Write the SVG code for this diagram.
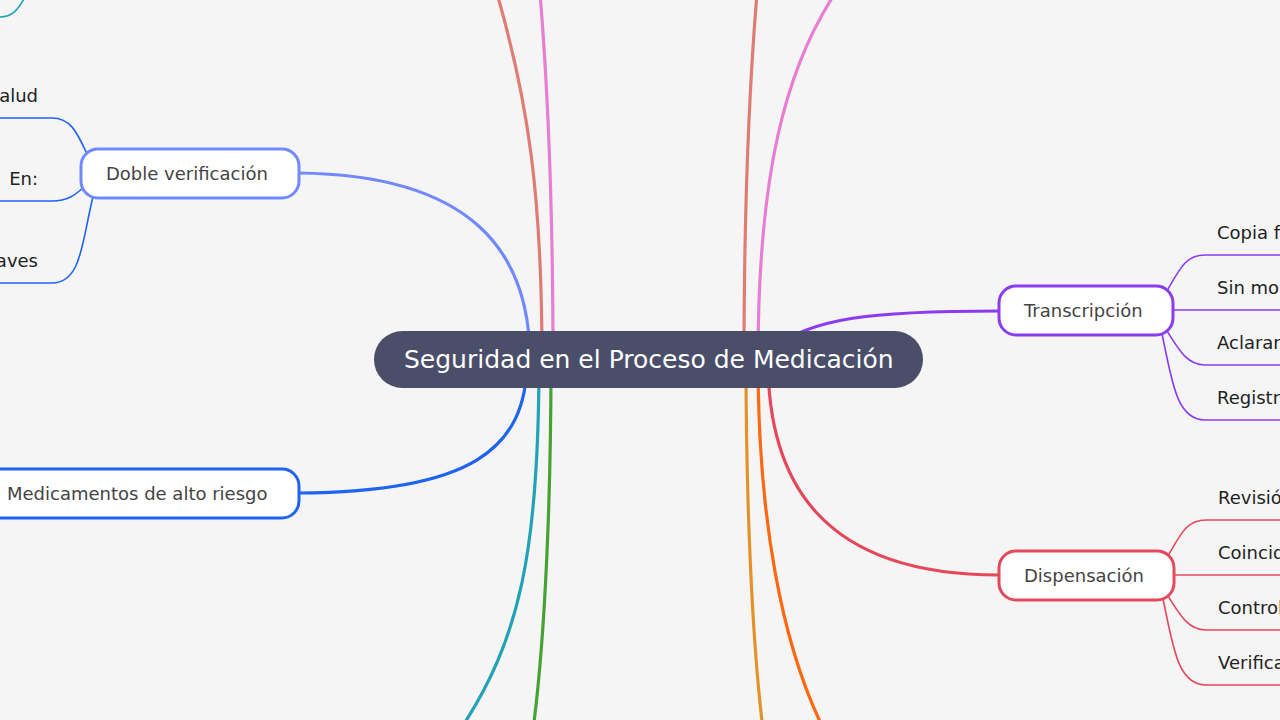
<svg xmlns="http://www.w3.org/2000/svg" width="1280" height="720" viewBox="0 0 1280 720">
<style>
.bg{fill:#f5f5f5}
.br{fill:none;stroke-width:3.2;stroke-linecap:round}
.sub{fill:none;stroke-width:1.6}
.node{fill:#ffffff;stroke-width:3}
.nt{font-family:"DejaVu Sans","Noto Sans",sans-serif;font-size:18px;fill:#444444}
.ct{font-family:"DejaVu Sans","Noto Sans",sans-serif;font-size:18px;fill:#222222}
.main{font-family:"DejaVu Sans","Noto Sans",sans-serif;font-size:25px;fill:#ffffff}
</style>
<rect class="bg" x="0" y="0" width="1280" height="720"/>
<g id="connectors">
  <path class="br" stroke="#e07c76" d="M 542 360 C 542 200 530 100 490 -30"/>
  <path class="br" stroke="#e77ed2" d="M 553 360 C 553 200 548 80 538 -30"/>
  <path class="br" stroke="#e07c76" d="M 744 360 C 744 200 749 80 759 -30"/>
  <path class="br" stroke="#e77ed2" d="M 758 360 C 758 190 780 60 852 -30"/>
  <path class="br" stroke="#7189ff" d="M 299 173 C 470 175 530 250 530 360"/>
  <path class="br" stroke="#1f63f2" d="M 299 493 C 470 492 527 450 527 360"/>
  <path class="br" stroke="#22a2b6" d="M 539 360 C 539 550 520 640 460 730"/>
  <path class="br" stroke="#45a233" d="M 551 360 C 551 500 545 640 533 730"/>
  <path class="br" stroke="#e3922a" d="M 746 360 C 746 500 752 640 763 730"/>
  <path class="br" stroke="#ff6812" d="M 758 360 C 758 520 782 645 824 730"/>
  <path class="br" stroke="#8b3cf0" d="M 999 311 C 870 311 810 318 770 350"/>
  <path class="br" stroke="#e5485b" d="M 999 575 C 820 575 768 480 768 360"/>
  <path class="sub" stroke="#22a2b6" d="M 25 -3 C 18 10 12 17 0 17"/>
  <path class="sub" stroke="#1f63f2" d="M 88 156 C 78 135 72 118 52 118 L -5 118"/>
  <path class="sub" stroke="#1f63f2" d="M 84 187 C 75 195 68 201 52 201 L -5 201"/>
  <path class="sub" stroke="#1f63f2" d="M 93 197 C 82 240 82 283 52 283 L -5 283"/>
  <path class="sub" stroke="#8b3cf0" d="M 1167 291 C 1180 268 1186 255 1205 255 L 1285 255"/>
  <path class="sub" stroke="#8b3cf0" d="M 1173 310 L 1285 310"/>
  <path class="sub" stroke="#8b3cf0" d="M 1167 331 C 1180 352 1188 365 1205 365 L 1285 365"/>
  <path class="sub" stroke="#8b3cf0" d="M 1162 334 C 1172 380 1176 420 1205 420 L 1285 420"/>
  <path class="sub" stroke="#e5485b" d="M 1168 556 C 1181 533 1187 520 1206 520 L 1285 520"/>
  <path class="sub" stroke="#e5485b" d="M 1174 575 L 1285 575"/>
  <path class="sub" stroke="#e5485b" d="M 1168 596 C 1181 617 1189 630 1206 630 L 1285 630"/>
  <path class="sub" stroke="#e5485b" d="M 1163 599 C 1173 645 1177 685 1206 685 L 1285 685"/>
</g>
<g id="central">
  <rect x="374" y="331" width="549" height="57" rx="28.5" fill="#4a4e69"/>
  <text class="main" x="404" y="368">Seguridad en el Proceso de Medicación</text>
</g>
<g id="doble-verificacion">
  <rect class="node" stroke="#7189ff" x="81" y="149" width="218" height="49" rx="17"/>
  <text class="nt" x="106" y="180">Doble verificación</text>
</g>
<g id="doble-verificacion-hijos">
  <text class="ct" x="38" y="102" text-anchor="end">alud</text>
  <text class="ct" x="38" y="185" text-anchor="end">En:</text>
  <text class="ct" x="38" y="267" text-anchor="end">aves</text>
</g>
<g id="medicamentos-alto-riesgo">
  <rect class="node" stroke="#1f63f2" x="-18" y="469" width="317" height="49" rx="17"/>
  <text class="nt" x="7" y="500">Medicamentos de alto riesgo</text>
</g>
<g id="transcripcion">
  <rect class="node" stroke="#8b3cf0" x="999" y="286" width="174" height="49" rx="17"/>
  <text class="nt" x="1024" y="317">Transcripción</text>
</g>
<g id="transcripcion-hijos">
  <text class="ct" x="1217" y="239">Copia f</text>
  <text class="ct" x="1217" y="294">Sin mo</text>
  <text class="ct" x="1217" y="349">Aclarar</text>
  <text class="ct" x="1217" y="404">Registr</text>
</g>
<g id="dispensacion">
  <rect class="node" stroke="#e5485b" x="999" y="551" width="175" height="49" rx="17"/>
  <text class="nt" x="1024" y="582">Dispensación</text>
</g>
<g id="dispensacion-hijos">
  <text class="ct" x="1218" y="504">Revisió</text>
  <text class="ct" x="1218" y="559">Coincid</text>
  <text class="ct" x="1218" y="614">Control</text>
  <text class="ct" x="1218" y="669">Verifica</text>
</g>
</svg>
